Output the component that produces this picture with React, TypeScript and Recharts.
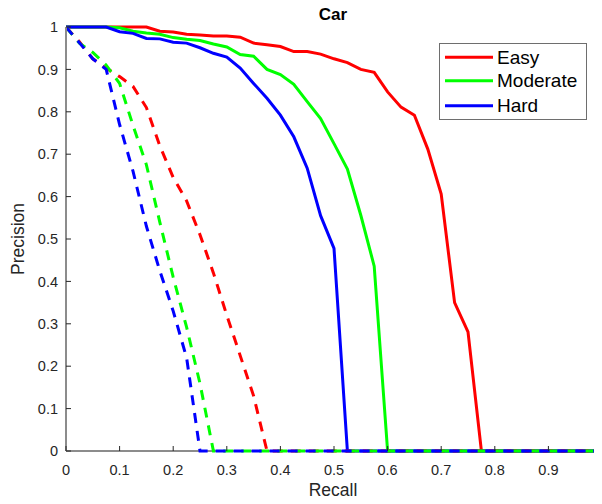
import React from "react";
import { LineChart, Line, XAxis, YAxis } from "recharts";

const recall = [
  0, 0.025, 0.05, 0.075, 0.1, 0.125, 0.15, 0.175, 0.2, 0.225,
  0.25, 0.275, 0.3, 0.325, 0.35, 0.375, 0.4, 0.425, 0.45, 0.475,
  0.5, 0.525, 0.55, 0.575, 0.6, 0.625, 0.65, 0.675, 0.7, 0.725,
  0.75, 0.775, 0.8, 0.825, 0.85, 0.875, 0.9, 0.925, 0.95, 0.975, 1,
];

// solid curves
const easy = [
  1, 1, 1, 1, 1, 1, 1, 0.99, 0.988, 0.983,
  0.981, 0.979, 0.979, 0.976, 0.962, 0.958, 0.954, 0.942, 0.942, 0.936,
  0.925, 0.916, 0.9, 0.893, 0.847, 0.811, 0.792, 0.712, 0.606, 0.35,
  0.281, 0, 0, 0, 0, 0, 0, 0, 0, 0, 0,
];
const moderate = [
  1, 1, 1, 1, 0.998, 0.99, 0.986, 0.983, 0.975, 0.971,
  0.968, 0.96, 0.953, 0.935, 0.931, 0.9, 0.888, 0.865, 0.824, 0.784,
  0.725, 0.665, 0.556, 0.436, 0, 0, 0, 0, 0, 0,
  0, 0, 0, 0, 0, 0, 0, 0, 0, 0, 0,
];
const hard = [
  1, 1, 1, 1, 0.989, 0.985, 0.973, 0.972, 0.964, 0.962,
  0.951, 0.938, 0.929, 0.903, 0.867, 0.832, 0.792, 0.741, 0.667, 0.555,
  0.478, 0, 0, 0, 0, 0, 0, 0, 0, 0,
  0, 0, 0, 0, 0, 0, 0, 0, 0, 0, 0,
];

// dashed curves
const easyDashed = [
  1, 0.965, 0.925, 0.903, 0.883, 0.86, 0.81, 0.72, 0.645, 0.59,
  0.51, 0.42, 0.32, 0.225, 0.13, 0, 0, 0, 0, 0,
  0, 0, 0, 0, 0, 0, 0, 0, 0, 0,
  0, 0, 0, 0, 0, 0, 0, 0, 0, 0, 0,
];
const moderateDashed = [
  1, 0.962, 0.94, 0.91, 0.867, 0.768, 0.675, 0.54, 0.41, 0.292,
  0.159, 0, 0, 0, 0, 0, 0, 0, 0, 0,
  0, 0, 0, 0, 0, 0, 0, 0, 0, 0,
  0, 0, 0, 0, 0, 0, 0, 0, 0, 0, 0,
];
const hardDashed = [
  1, 0.963, 0.925, 0.9, 0.77, 0.66, 0.53, 0.425, 0.33, 0.22,
  0, 0, 0, 0, 0, 0, 0, 0, 0, 0,
  0, 0, 0, 0, 0, 0, 0, 0, 0, 0,
  0, 0, 0, 0, 0, 0, 0, 0, 0, 0, 0,
];

const tickValues = [0, 0.1, 0.2, 0.3, 0.4, 0.5, 0.6, 0.7, 0.8, 0.9, 1];
const tickLabels = ["0", "0.1", "0.2", "0.3", "0.4", "0.5", "0.6", "0.7", "0.8", "0.9", "1"];

const legendNames = ["Easy", "Moderate", "Hard"];
const colors = ["#ff0000", "#00ff00", "#0000ff"];

const rows = recall.map((r, i) => ({
  r,
  easy: easy[i],
  moderate: moderate[i],
  hard: hard[i],
  easyD: easyDashed[i],
  moderateD: moderateDashed[i],
  hardD: hardDashed[i],
}));

const FONT = "'Liberation Sans', Arial, Helvetica, sans-serif";
const TICK_COLOR = "#262626";
const AXIS_COLOR = "#8c8c8c";

const labelFor = (v: number) => {
  const idx = tickValues.findIndex((t) => Math.abs(t - v) < 1e-9);
  return idx >= 0 ? tickLabels[idx] : String(v);
};

const YTick = (props: any) => {
  const { x, y, payload } = props;
  return (
    <g>
      <line x1={x + 8} x2={x + 13} y1={y} y2={y} stroke={TICK_COLOR} strokeWidth={1} />
      <text x={x} y={y} dy="0.36em" textAnchor="end" fontFamily={FONT} fontSize={14.5} fill={TICK_COLOR}>
        {labelFor(payload.value)}
      </text>
    </g>
  );
};

const XTick = (props: any) => {
  const { x, y, payload } = props;
  return (
    <g>
      <line x1={x} x2={x} y1={y - 14} y2={y - 19} stroke={TICK_COLOR} strokeWidth={1} />
      <text x={x} y={y} dy="0.71em" textAnchor="middle" fontFamily={FONT} fontSize={14.5} fill={TICK_COLOR}>
        {labelFor(payload.value)}
      </text>
    </g>
  );
};

const W = 594;
const H = 496;
const M = { top: 19, right: 0, bottom: 0, left: 0 };
const Y_W = 58;
const X_H = 53;

const lineCommon = {
  dot: false as const,
  activeDot: false as const,
  isAnimationActive: false,
  type: "linear" as const,
  strokeWidth: 3,
};

export default function App() {
  const axisY = H - M.bottom - X_H;
  return (
    <div style={{ position: "relative", width: W, height: H }}>
      {/* x-axis baseline underneath the series, as in the reference */}
      <svg width={W} height={H} style={{ position: "absolute", left: 0, top: 0 }}>
        <line x1={Y_W} x2={W} y1={axisY} y2={axisY} stroke={AXIS_COLOR} strokeWidth={2} />
      </svg>
      <div style={{ position: "absolute", left: 0, top: 0 }}>
        <LineChart width={W} height={H} data={rows} margin={M}>
          <XAxis
            dataKey="r"
            type="number"
            domain={[0, 1]}
            ticks={tickValues}
            interval={0}
            height={X_H}
            tickSize={0}
            tickMargin={14}
            tickLine={false}
            axisLine={false}
            tick={<XTick />}
          />
          <YAxis
            type="number"
            domain={[0, 1]}
            ticks={tickValues}
            interval={0}
            width={Y_W}
            tickSize={0}
            tickMargin={8}
            tickLine={false}
            axisLine={{ stroke: AXIS_COLOR, strokeWidth: 2 }}
            tick={<YTick />}
          />
          <Line dataKey="easy" stroke={colors[0]} {...lineCommon} />
          <Line dataKey="moderate" stroke={colors[1]} {...lineCommon} />
          <Line dataKey="hard" stroke={colors[2]} {...lineCommon} />
          <Line dataKey="easyD" stroke={colors[0]} strokeDasharray="10 8" {...lineCommon} />
          <Line dataKey="moderateD" stroke={colors[1]} strokeDasharray="10 8" {...lineCommon} />
          <Line dataKey="hardD" stroke={colors[2]} strokeDasharray="10 8" {...lineCommon} />
        </LineChart>
      </div>
      <svg
        width={W}
        height={H}
        style={{ position: "absolute", left: 0, top: 0, pointerEvents: "none", overflow: "visible" }}
      >
        <text x={325} y={12} textAnchor="middle" fontFamily={FONT} fontWeight="bold" fontSize={17} fill="#000">
          Car
        </text>
        <text x={325} y={488} textAnchor="middle" fontFamily={FONT} fontSize={17.5} fill={TICK_COLOR}>
          Recall
        </text>
        <text
          transform="translate(16,231) rotate(-90)"
          textAnchor="middle"
          fontFamily={FONT}
          fontSize={17.5}
          fill={TICK_COLOR}
        >
          Precision
        </text>
        <rect x={431.5} y={35.5} width={147} height={76} fill="#fff" stroke="#6e6e6e" strokeWidth={1} />
        {legendNames.map((name, i) => {
          const cy = [49.3, 72.8, 97.8][i];
          return (
            <g key={name}>
              <line x1={437} x2={485} y1={cy} y2={cy} stroke={colors[i]} strokeWidth={3} />
              <text x={489} y={cy} dy="0.35em" fontFamily={FONT} fontSize={19} fill="#000">
                {name}
              </text>
            </g>
          );
        })}
      </svg>
    </div>
  );
}
